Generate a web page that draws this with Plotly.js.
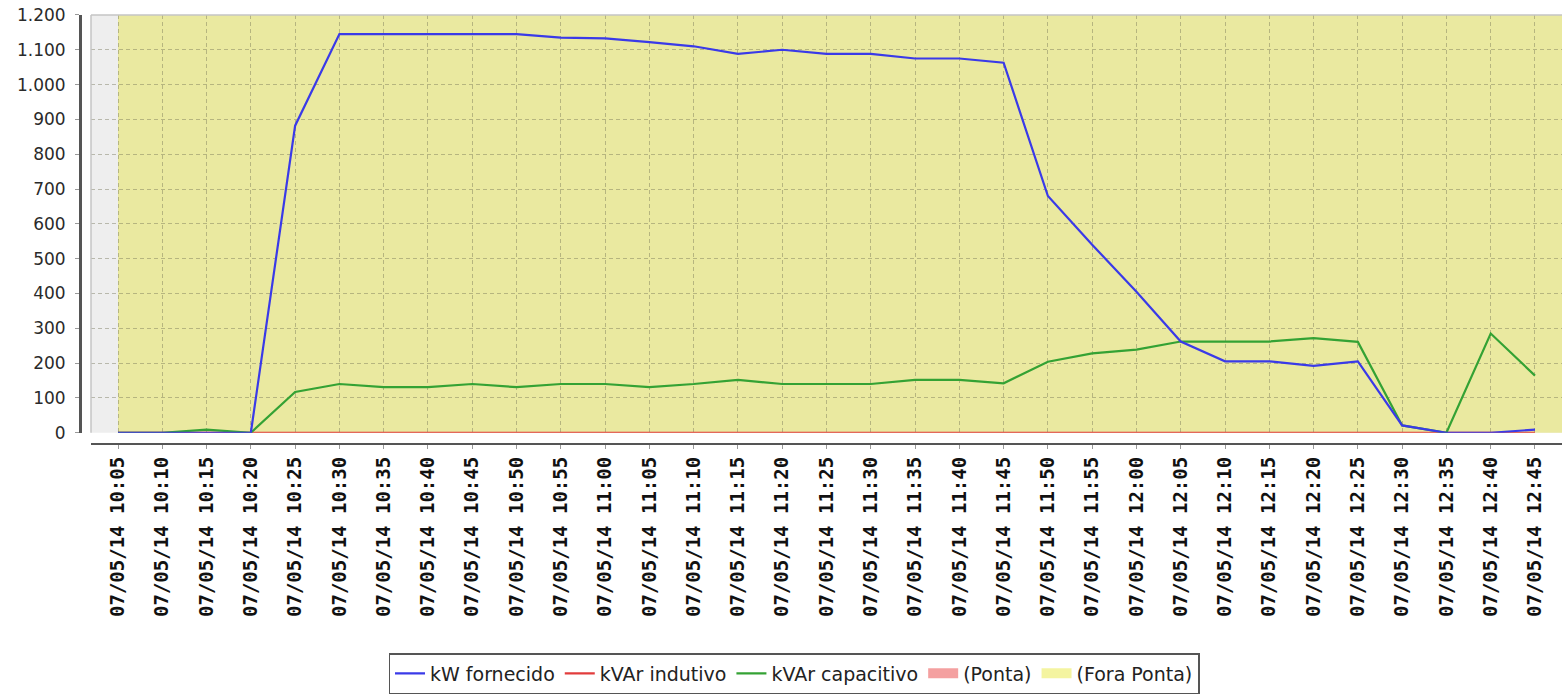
<!DOCTYPE html>
<html>
<head>
<meta charset="utf-8">
<script src="https://cdn.plot.ly/plotly-3.0.1.min.js"></script>
<style>
  html, body { margin: 0; padding: 0; background: #ffffff; }
  #chart { width: 1562px; height: 694px; }
</style>
</head>
<body>
<div id="chart"></div>
<script>
// ---- data ----
const times = [
  "07/05/14 10:05","07/05/14 10:10","07/05/14 10:15","07/05/14 10:20","07/05/14 10:25",
  "07/05/14 10:30","07/05/14 10:35","07/05/14 10:40","07/05/14 10:45","07/05/14 10:50",
  "07/05/14 10:55","07/05/14 11:00","07/05/14 11:05","07/05/14 11:10","07/05/14 11:15",
  "07/05/14 11:20","07/05/14 11:25","07/05/14 11:30","07/05/14 11:35","07/05/14 11:40",
  "07/05/14 11:45","07/05/14 11:50","07/05/14 11:55","07/05/14 12:00","07/05/14 12:05",
  "07/05/14 12:10","07/05/14 12:15","07/05/14 12:20","07/05/14 12:25","07/05/14 12:30",
  "07/05/14 12:35","07/05/14 12:40","07/05/14 12:45"
];
const kwFornecido = [
  0, 0, 0, 0, 882,
  1145, 1145, 1145, 1145, 1145,
  1135, 1133, 1122, 1110, 1088,
  1100, 1088, 1088, 1075, 1075,
  1063, 680, 540, 405, 262,
  205, 205, 192, 205, 21,
  0, 0, 9
];
const kvarIndutivo = [
  0, 0, 0, 0, 0,
  0, 0, 0, 0, 0,
  0, 0, 0, 0, 0,
  0, 0, 0, 0, 0,
  0, 0, 0, 0, 0,
  0, 0, 0, 0, 0,
  0, 0, 0
];
const kvarCapacitivo = [
  0, 0, 9, 0, 117,
  140, 131, 131, 140, 131,
  140, 140, 131, 140, 152,
  140, 140, 140, 152, 152,
  142, 204, 228, 239, 262,
  262, 262, 272, 261, 21,
  0, 285, 164
];
const seriesNames = ["kW fornecido", "kVAr indutivo", "kVAr capacitivo", "(Ponta)", "(Fora Ponta)"];
const yTickValues = [0, 100, 200, 300, 400, 500, 600, 700, 800, 900, 1000, 1100, 1200];

// ---- styles ----
const W = 1562, H = 694;
const plotLeft = 91, plotTop = 15, plotBottom = 434;
const yAxisX = 80, xAxisY = 445;
const colBlue = "rgb(58,58,232)";
const colRed = "rgb(226,60,60)";
const colGreen = "rgb(52,162,52)";
const colPonta = "rgb(244,160,160)";
const colFora = "rgb(244,244,160)";
const colForaPlot = "rgb(234,233,160)";
const gridCol = "rgba(110,110,80,0.42)";

const nCat = times.length;
const xRange = [-0.61, nCat - 1 + 0.61];

const traces = [
  { x: times, y: kvarIndutivo, name: seriesNames[1], type: "scatter", mode: "lines",
    line: { color: colRed, width: 2.2 }, legendrank: 2, cliponaxis: false },
  { x: times, y: kvarCapacitivo, name: seriesNames[2], type: "scatter", mode: "lines",
    line: { color: colGreen, width: 2.2 }, legendrank: 3, cliponaxis: false },
  { x: times, y: kwFornecido, name: seriesNames[0], type: "scatter", mode: "lines",
    line: { color: colBlue, width: 2.2 }, legendrank: 1, cliponaxis: false },
  { x: [null], y: [null], name: seriesNames[3], type: "scatter", mode: "lines",
    line: { color: colPonta, width: 14 }, legendrank: 4, hoverinfo: "skip" },
  { x: [null], y: [null], name: seriesNames[4], type: "scatter", mode: "lines",
    line: { color: colFora, width: 14 }, legendrank: 5, hoverinfo: "skip" }
];

const layout = {
  width: W, height: H,
  margin: { l: 0, r: 0, t: 0, b: 0 },
  paper_bgcolor: "#ffffff",
  plot_bgcolor: "#EEEEEE",
  separators: ",.",
  font: { family: "DejaVu Sans", size: 18, color: "#333333" },
  showlegend: true,
  xaxis: {
    type: "category",
    domain: [plotLeft / W, 1],
    anchor: "free",
    position: (H - xAxisY) / H,
    range: xRange,
    showline: true, linecolor: "#555555", linewidth: 2.5,
    ticks: "outside", ticklen: 4, tickcolor: "#999999", tickwidth: 1,
    tickangle: -90,
    tickfont: { family: "DejaVu Sans Mono", size: 19, color: "#111111", weight: "bold" },
    showgrid: true, gridcolor: gridCol, gridwidth: 1, griddash: "4px,3px",
    zeroline: false,
    fixedrange: true
  },
  yaxis: {
    domain: [(H - plotBottom) / H, (H - plotTop) / H],
    anchor: "free",
    position: yAxisX / W,
    range: [0, 1200],
    tickvals: yTickValues,
    tickformat: ",d",
    showline: true, linecolor: "#555555", linewidth: 2.5,
    ticks: "outside", ticklen: 4, tickcolor: "#999999", tickwidth: 1,
    tickfont: { family: "DejaVu Sans", size: 17, color: "#2a2a2a" },
    ticklabelstandoff: 6,
    showgrid: true, gridcolor: gridCol, gridwidth: 1, griddash: "4px,3px",
    zeroline: false,
    fixedrange: true
  },
  shapes: [
    { type: "rect", layer: "below", xref: "x", yref: "y domain",
      x0: 0, x1: xRange[1], y0: 0, y1: 1,
      fillcolor: colForaPlot, line: { width: 0 } },
    { type: "line", layer: "above", xref: "paper", yref: "paper",
      x0: plotLeft / W, x1: 1, y0: (H - plotTop) / H, y1: (H - plotTop) / H,
      line: { color: "#c4c4c4", width: 1.5 } },
    { type: "line", layer: "above", xref: "paper", yref: "paper",
      x0: plotLeft / W, x1: plotLeft / W, y0: (H - plotBottom) / H, y1: (H - plotTop) / H,
      line: { color: "#c4c4c4", width: 1.5 } }
  ],
  legend: {
    orientation: "h",
    x: 794 / W, xanchor: "center",
    y: (H - 655) / H, yanchor: "top",
    bgcolor: "#ffffff",
    bordercolor: "#555555", borderwidth: 1.5,
    font: { family: "DejaVu Sans", size: 19, color: "#222222" },
    traceorder: "normal"
  }
};

Plotly.newPlot("chart", traces, layout, { displayModeBar: false, staticPlot: true });
</script>
</body>
</html>
